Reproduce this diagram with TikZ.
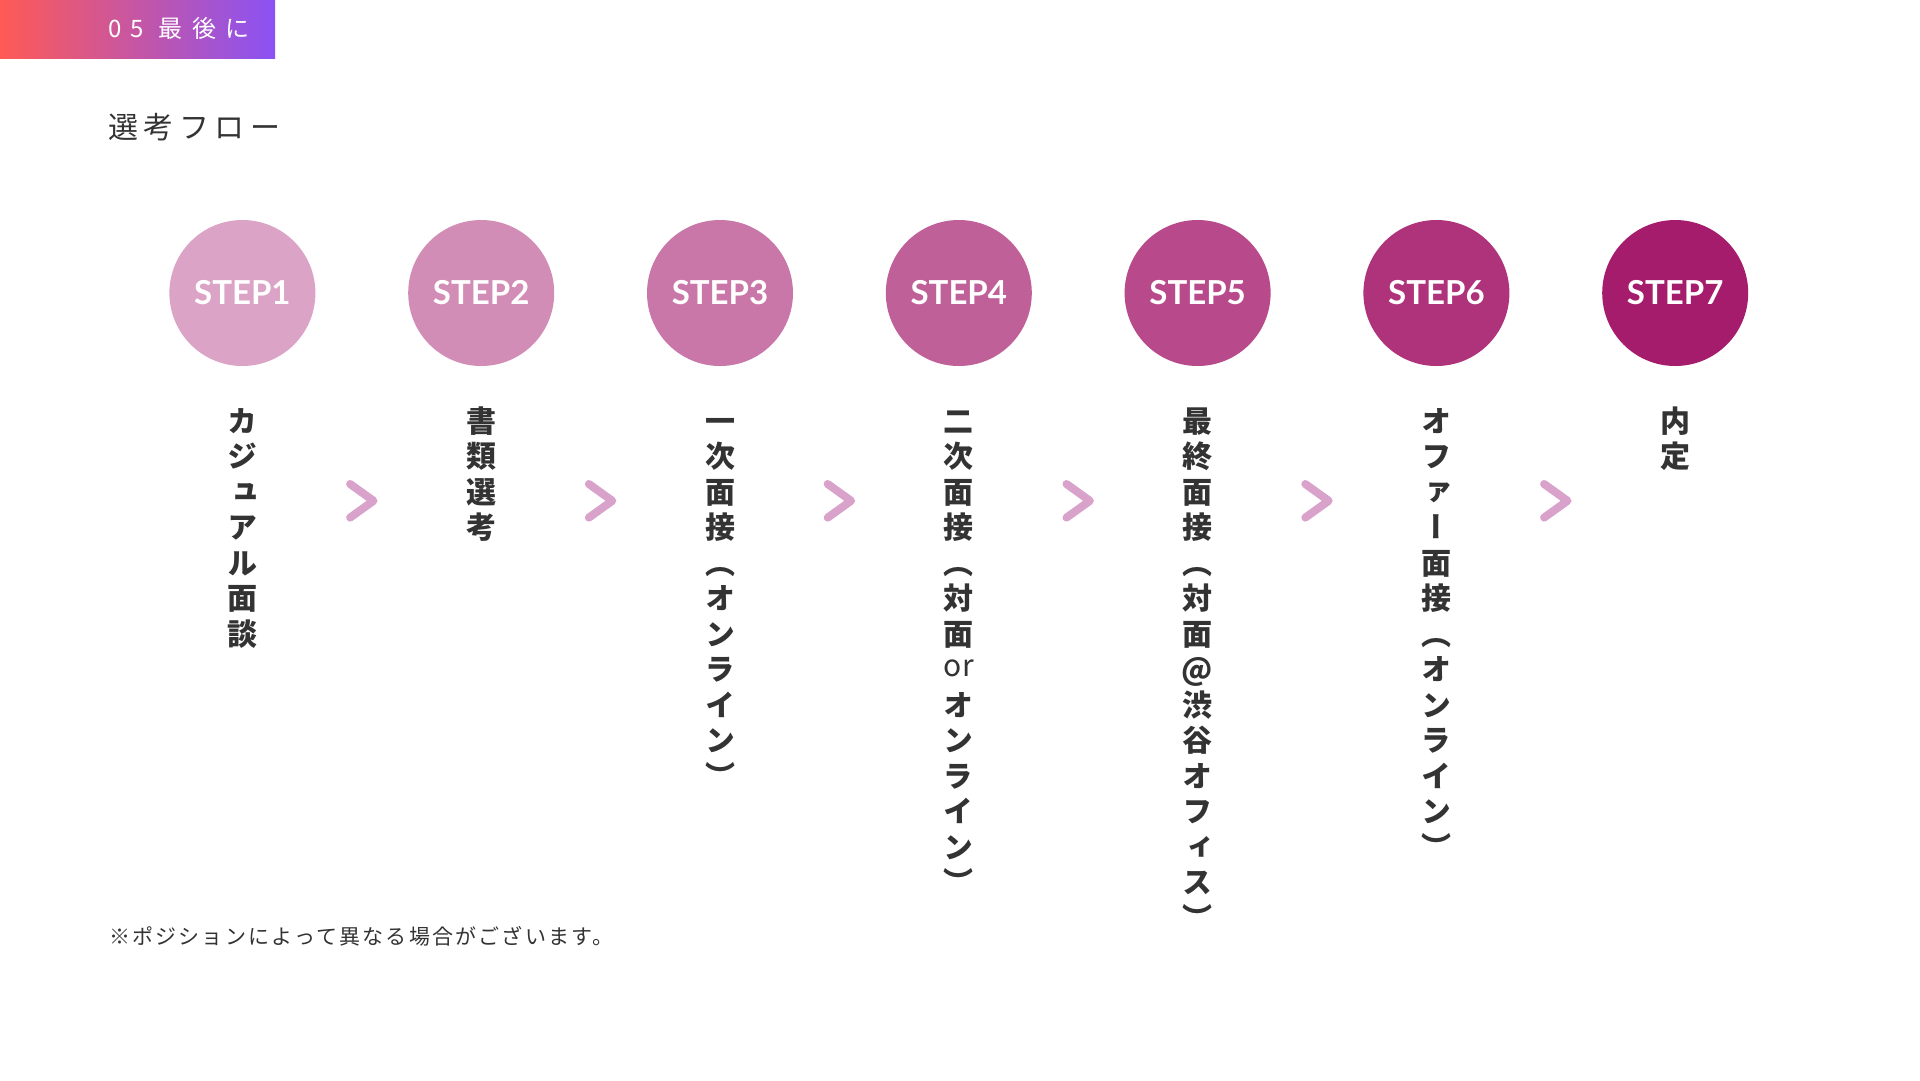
\documentclass[tikz,border=0pt]{standalone}
\usepackage{fontspec}
\usepackage{graphicx}
\usetikzlibrary{calc}
\newfontfamily\jp{Noto Sans CJK JP}
\newfontfamily\jpv[RawFeature=+vert]{Noto Sans CJK JP}
\newfontfamily\jphead[LetterSpace=39]{Noto Sans CJK JP}
\newfontfamily\jptitle[LetterSpace=18.5]{Noto Sans CJK JP}
\newfontfamily\jpnote[LetterSpace=10.5]{Noto Sans CJK JP}
\newfontfamily\lato{Lato}
\definecolor{hdrL}{HTML}{FF5A55}
\definecolor{hdrR}{HTML}{8A52F4}
\definecolor{txt}{HTML}{333333}
\definecolor{cA}{HTML}{DBA4C6}
\definecolor{cB}{HTML}{A61C6C}
\definecolor{linkc}{HTML}{EDD0E3}
\definecolor{chevc}{HTML}{D9A2CA}
\pgfdeclarelayer{bg}
\pgfsetlayers{bg,main}
\makeatletter
\newcommand\vstack[1]{\vbox{\baselineskip=35.5pt\lineskiplimit=-\maxdimen\lineskip=0pt
  \@tfor\vs@c:=#1\do{\hbox to 0pt{\hss\vrule width 0pt height 29.15pt depth 6.35pt\vs@c\hss}}}}
\makeatother
\newcommand\vor{\raisebox{4.2pt}{\mdseries or}}
\tikzset{
  stepc/.style={circle, minimum size=146pt, inner sep=0pt, text=white,
    font=\lato\bfseries\fontsize{33}{33}\selectfont},
  vlabel/.style={anchor=north, inner sep=0pt, text=txt,
    font=\jpv\bfseries\fontsize{30}{35.5}\selectfont},
  linkline/.style={draw=linkc, line width=10pt, shorten <=-3pt, shorten >=-3pt},
  chev/.style={draw=chevc, line width=8pt, line cap=round, line join=round},
}
\begin{document}
\begin{tikzpicture}[x=1pt,y=-1pt]
\useasboundingbox (0,0) rectangle (1920,1080);
\fill[white] (0,0) rectangle (1920,1080);
\shade[left color=hdrL, right color=hdrR] (0,0) rectangle (275,58);
\node[anchor=base west, inner sep=0pt, text=white, font=\jphead\fontsize{24}{24}\selectfont] (hdr) at (108,37.5) {05 最後に};
\node[anchor=base west, inner sep=0pt, text=txt, font=\jptitle\fontsize{30}{30}\selectfont] (title) at (108,138) {選考フロー};
\foreach \i in {1,...,7}{
  \pgfmathsetmacro\pc{(\i-1)/6*100}
  \colorlet{cc}{cB!\pc!cA}
  \node[stepc, fill=cc] (s\i) at ({242.4+238.8*(\i-1)},293) {STEP\i};
}
\begin{pgfonlayer}{bg}
\foreach \i [evaluate=\i as \j using int(\i+1)] in {1,...,6}{
  \draw[linkline] (s\i) -- (s\j);
}
\end{pgfonlayer}
\foreach \i [evaluate=\i as \j using int(\i+1)] in {1,...,6}{
  \coordinate (m\i) at ($(s\i)!0.5!(s\j)+(0,207.8)$);
  \draw[chev] ($(m\i)+(-11.7,-16.8)$) -- ($(m\i)+(11.7,0)$) -- ($(m\i)+(-11.7,16.8)$);
}
\node[vlabel] (l1) at ($(s1)+(0,109.75)$) {\vstack{カジュアル面談}};
\node[vlabel] (l2) at ($(s2)+(0,109.75)$) {\vstack{書類選考}};
\node[vlabel] (l3) at ($(s3)+(0,109.75)$) {\vstack{一次面接（オンライン）}};
\node[vlabel] (l4) at ($(s4)+(0,109.75)$) {\vstack{二次面接（対面{\vor}オンライン）}};
\node[vlabel] (l5) at ($(s5)+(0,109.75)$) {\vstack{最終面接（対面@渋谷オフィス）}};
\node[vlabel] (l6) at ($(s6)+(0,109.75)$) {\vstack{オファー面接（オンライン）}};
\node[vlabel] (l7) at ($(s7)+(0,109.75)$) {\vstack{内定}};
\node[anchor=base west, inner sep=0pt, text=txt, font=\jpnote\fontsize{21}{21}\selectfont] (note) at (109,944.5) {※ポジションによって異なる場合がございます。};
\end{tikzpicture}
\end{document}
